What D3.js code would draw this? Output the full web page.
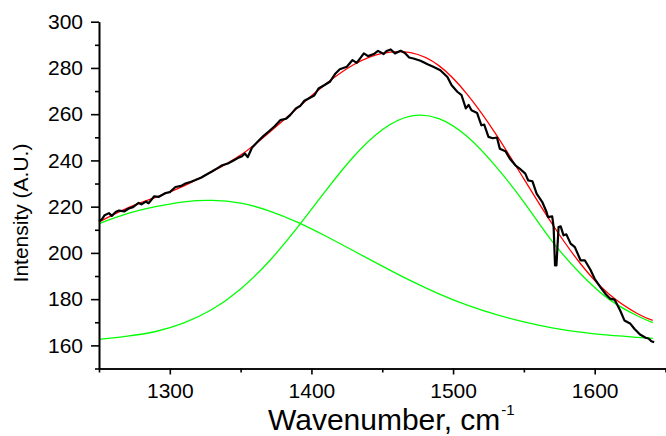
<html>
<head>
    <title>Raman band fit</title>
    <style>
        body { margin: 0; background: white; }
        text { font-family: Arial, "Liberation Sans", sans-serif; fill: black; }
    </style>
</head>
<body>
    <svg id="container" width="666" height="436">
        <g id="fits"></g>
        <g id="yAxis"></g>
        <g id="yMinor"></g>
        <g id="xAxis"></g>
        <g id="xMinor"></g>
    </svg>
    <script src="https://d3js.org/d3.v7.min.js"></script>
    <script>
        // fitted peaks + total fit, sampled on the same wavenumber grid
        let fitX = [1250, 1270, 1290, 1310, 1330, 1350, 1370, 1390, 1410, 1430, 1450,
                    1470, 1490, 1510, 1530, 1550, 1570, 1590, 1610, 1630, 1641]
        let peak1 = [212.7, 217.0, 220.0, 222.1, 222.7, 221.5, 218.2, 213.3, 207.3, 200.8, 194.3,
                     188.0, 182.3, 177.4, 173.4, 170.2, 167.6, 165.7, 164.4, 163.5, 163.0]
        let peak2 = [162.6, 164.0, 166.0, 169.7, 175.6, 184.4, 196.3, 210.9, 226.8, 241.8, 253.3,
                     259.2, 258.1, 250.3, 237.5, 222.0, 205.0, 191.0, 180.0, 172.8, 169.8]
        let totalFit = [213.4, 219.4, 224.0, 229.0, 235.2, 242.3, 252.0, 262.6, 273.0, 281.5, 286.3,
                        286.6, 281.0, 268.6, 251.6, 232.0, 212.5, 195.3, 182.2, 173.8, 170.8]

        // measured spectrum
        let dataX = [1250, 1252, 1254, 1257, 1259, 1262, 1264, 1268, 1271, 1274, 1278, 1280, 1283, 1285,
                     1289, 1292, 1297, 1300, 1304, 1308, 1311, 1315, 1318, 1322, 1325, 1330, 1334, 1337,
                     1341, 1345, 1348, 1351, 1353, 1355, 1358, 1360, 1363, 1366, 1370, 1374, 1378, 1382,
                     1385, 1389, 1392, 1395, 1398, 1402, 1405, 1409, 1413, 1417, 1420, 1425, 1429, 1432,
                     1437, 1440, 1444, 1447, 1451, 1453, 1456, 1459, 1463, 1466, 1469, 1472, 1477, 1482,
                     1486, 1491, 1496, 1499, 1503, 1506, 1509, 1511, 1513, 1517, 1520, 1522, 1525, 1528,
                     1531, 1533, 1537, 1540, 1544, 1547, 1551, 1553, 1556, 1559, 1563, 1566, 1567, 1570,
                     1571, 1572, 1573, 1574.5, 1576, 1578, 1580, 1583, 1586, 1590, 1593, 1597, 1600, 1604,
                     1608, 1611, 1614, 1618, 1621, 1625, 1628, 1632, 1636, 1638, 1640, 1642]
        let dataY = [213.8, 214.5, 216.3, 217.2, 216.0, 217.8, 218.3, 218.0, 219.2, 219.8, 221.6, 221.0, 222.2, 221.5,
                     224.5, 224.2, 225.9, 226.3, 228.5, 229.0, 230.0, 230.8, 231.5, 232.5, 233.6, 235.3, 236.8, 237.9,
                     238.7, 240.0, 241.0, 241.8, 243.0, 241.4, 245.5, 246.8, 248.7, 250.5, 252.6, 254.8, 257.4, 258.0,
                     259.6, 262.5, 263.5, 265.8, 266.8, 268.1, 271.1, 272.5, 274.0, 277.6, 279.4, 280.5, 283.4, 282.2,
                     286.3, 285.1, 286.0, 287.4, 286.0, 287.3, 288.0, 286.3, 287.4, 286.5, 284.5, 284.1, 283.1, 281.6,
                     280.5, 279.0, 276.1, 272.5, 269.7, 268.2, 262.5, 264.0, 261.7, 260.5, 255.2, 255.5, 250.2, 249.6,
                     249.9, 245.1, 244.0, 240.8, 237.9, 236.5, 234.3, 231.4, 231.0, 225.6, 222.0, 217.7, 215.5, 215.8,
                     211.2, 194.6, 194.6, 211.2, 211.5, 207.6, 208.0, 204.0, 202.5, 196.8, 196.8, 192.7, 188.8, 185.2,
                     182.0, 180.2, 179.8, 175.1, 170.8, 169.5, 167.2, 164.7, 163.3, 163.0, 161.8, 161.4]

        let xMajor = [1300, 1400, 1500, 1600]
        let xMinor = [1250, 1350, 1450, 1550, 1650]
        let yMajor = [160, 180, 200, 220, 240, 260, 280, 300]
        let yMinor = [150, 170, 190, 210, 230, 250, 270, 290]

        let container = d3.select("#container")

        let x = d3.scaleLinear().domain([1250, 1650]).range([99, 665.5])
        let y = d3.scaleLinear().domain([150, 300]).range([368.5, 21.7])

        let smooth = d3.line()
                       .x(d => x(d[0]))
                       .y(d => y(d[1]))
                       .curve(d3.curveNatural)
        let raw = d3.line()
                    .x(d => x(d[0]))
                    .y(d => y(d[1]))

        let fits = d3.select("#fits")
        fits.append("path")
            .attr("d", smooth(fitX.map((v, i) => [v, peak1[i]])))
            .style("fill", "none").style("stroke", "#00ff00").style("stroke-width", 1.3)
        fits.append("path")
            .attr("d", smooth(fitX.map((v, i) => [v, peak2[i]])))
            .style("fill", "none").style("stroke", "#00ff00").style("stroke-width", 1.3)
        fits.append("path")
            .attr("d", smooth(fitX.map((v, i) => [v, totalFit[i]])))
            .style("fill", "none").style("stroke", "#ff0000").style("stroke-width", 1.3)
        fits.append("path")
            .attr("d", raw(dataX.map((v, i) => [v, dataY[i]])))
            .style("fill", "none").style("stroke", "black").style("stroke-width", 2.2)
            .style("stroke-linejoin", "round")

        let yAxis = d3.axisLeft(y).tickValues(yMajor).tickSize(8).tickSizeOuter(0).tickPadding(8)
                      .tickFormat(d3.format("d"))
        d3.select("#yAxis")
          .attr("transform", "translate(99,0)")
          .call(yAxis)
        d3.select("#yMinor")
          .attr("transform", "translate(99,0)")
          .call(d3.axisLeft(y).tickValues(yMinor).tickSize(4).tickSizeOuter(0).tickFormat(""))

        let xAxis = d3.axisBottom(x).tickValues(xMajor).tickSize(6).tickSizeOuter(0).tickPadding(9)
                      .tickFormat(d3.format("d"))
        d3.select("#xAxis")
          .attr("transform", "translate(0,368.5)")
          .call(xAxis)
        d3.select("#xMinor")
          .attr("transform", "translate(0,368.5)")
          .call(d3.axisBottom(x).tickValues(xMinor).tickSize(4).tickSizeOuter(0).tickFormat(""))

        container.selectAll(".domain, .tick line").style("stroke", "black").style("stroke-width", 1.6)
        container.selectAll(".tick text").style("font-size", "21px").style("font-family", "Arial, 'Liberation Sans', sans-serif")

        container.append("text")
                 .attr("transform", "translate(28,213) rotate(-90)")
                 .attr("text-anchor", "middle")
                 .style("font-size", "21px")
                 .text("Intensity (A.U.)")

        let xLabel = container.append("text")
                              .attr("x", 268)
                              .attr("y", 430)
                              .style("font-size", "30px")
        xLabel.append("tspan").text("Wavenumber, cm")
        xLabel.append("tspan").attr("dy", -15).attr("dx", 1).style("font-size", "15px").text("-1")
    </script>
</body>
</html>
